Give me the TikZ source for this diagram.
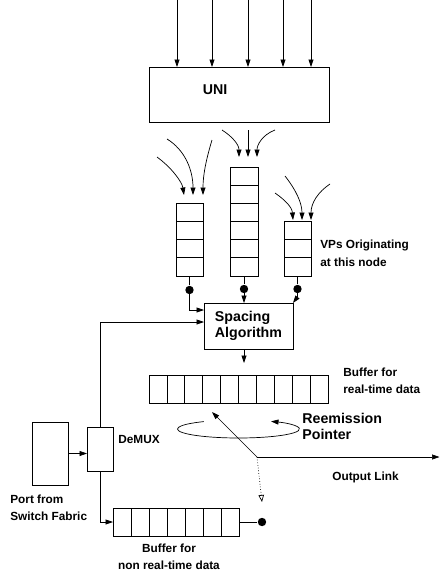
\documentclass[tikz,border=0pt]{standalone}
\usepackage{fontspec}
\setmainfont{Liberation Sans}
\usetikzlibrary{arrows.meta,calc}
\begin{document}
\begin{tikzpicture}[x=1pt,y=-1pt,
  line width=0.7pt,
  arr/.style={-{Triangle[length=7.5pt,width=5pt]}},
  plainbox/.style={draw, inner sep=0pt, outer sep=0pt},
  dot/.style={circle, fill, inner sep=0pt, minimum size=8.4pt},
  biglbl/.style={font=\bfseries\fontsize{14.2}{16.5}\selectfont, inner sep=0pt, align=left},
  smalllbl/.style={font=\bfseries\fontsize{11.8}{17.5}\selectfont, inner sep=0pt, align=left}
]
\useasboundingbox (0,0) rectangle (440,576);

% UNI
\node[plainbox, minimum width=180pt, minimum height=55pt] (uni) at (239,94.5) {};
\node[biglbl] (unilbl) at (215,90) {UNI};
\foreach \x [count=\k] in {177,212,248,283,311} {
  \coordinate (t\k) at (\x,0);
  \draw[arr] (t\k) -- (t\k |- uni.north);
}

% queues
\node[plainbox, minimum width=27pt, minimum height=73pt] (q1) at (189.5,239.5) {};
\node[plainbox, minimum width=28pt, minimum height=109pt] (q2) at (244,221.5) {};
\node[plainbox, minimum width=27pt, minimum height=55pt] (q3) at (297.5,248.5) {};
\foreach \i in {1,2,3}
  \draw ($(q1.north west)!\i/4!(q1.south west)$) -- ($(q1.north east)!\i/4!(q1.south east)$);
\foreach \i in {1,...,5}
  \draw ($(q2.north west)!\i/6!(q2.south west)$) -- ($(q2.north east)!\i/6!(q2.south east)$);
\foreach \i in {1,2}
  \draw ($(q3.north west)!\i/3!(q3.south west)$) -- ($(q3.north east)!\i/3!(q3.south east)$);

% incoming curved arrows
\coordinate (a1) at (157,157);
\coordinate (a2) at (167,139);
\coordinate (a3) at (212,140);
\draw[arr] (a1) .. controls (172,168) and (182,182) .. ($(q1.north)+(-5.5,-8)$);
\draw[arr] (a2) .. controls (185,150) and (193,170) .. ($(q1.north)+(3.5,-8)$);
\draw[arr] (a3) .. controls (206,160) and (203,175) .. ($(q1.north)+(13.5,-8)$);
\coordinate (b1) at (222,130);
\coordinate (b2) at (248,130);
\coordinate (b3) at (275,130);
\draw[arr] (b1) .. controls (233,137) and (239,145) .. ($(q2.north)+(-5,-10)$);
\draw[arr] (b2) -- ($(q2.north)+(4,-10)$);
\draw[arr] (b3) .. controls (262,135) and (257,145) .. ($(q2.north)+(13,-10)$);
\coordinate (c1) at (275,193);
\coordinate (c2) at (285,176);
\coordinate (c3) at (330,184);
\draw[arr] (c1) .. controls (285,200) and (292,207) .. ($(q3.north)+(-4.5,-1)$);
\draw[arr] (c2) .. controls (296,190) and (302,203) .. ($(q3.north)+(4.5,-1)$);
\draw[arr] (c3) .. controls (318,192) and (311,203) .. ($(q3.north)+(13.5,-1)$);

\node[smalllbl, anchor=west] (vplbl) at (320,253.5) {VPs Originating\\at this node};

% dots
\node[dot] (d1) at (189.5,290) {};
\node[dot] (d2) at (244,289) {};
\node[dot] (d3) at (297.5,289) {};
\draw (q1.south) -- (d1);
\draw (q2.south) -- (d2);
\draw (q3.south) -- (d3);

% spacing algorithm
\node[plainbox, minimum width=89pt, minimum height=46pt, biglbl, draw] (sa) at (248.5,326) {Spacing\\Algorithm};
\draw[arr] (d1.center) |- ([yshift=16pt]sa.west);
\draw[arr] (d2.center) -- (d2 |- sa.north);
\draw[arr] (d3.center) -- ++(0,8) -- (sa.north east);
\coordinate (saout) at (244,363);
\draw[arr] (sa.south -| saout) -- (saout);

% real-time buffer
\node[plainbox, minimum width=179pt, minimum height=28pt] (rtb) at (238.5,389) {};
\foreach \i in {1,...,9}
  \draw ($(rtb.north west)!\i/10!(rtb.north east)$) -- ($(rtb.south west)!\i/10!(rtb.south east)$);
\node[smalllbl, anchor=west] (rtlbl) at (343,381) {Buffer for\\real-time data};

% reemission pointer
\draw[arr] (238.5,429) ++(-124.5:61 and 9) arc[start angle=-124.5, end angle=-417.8, x radius=61, y radius=9];
\node[biglbl, anchor=west] (rplbl) at (302,426.5) {Reemission\\Pointer};
\coordinate (piv) at (257,457);
\coordinate (ptip) at (212,412);
\coordinate (outend) at (439.5,457);
\coordinate (dotend) at (262,502);
\draw[arr] (piv) -- (ptip);
\draw[arr] (piv) -- (outend);
\draw[dotted, -{Triangle[open,length=7pt,width=5.5pt]}] (piv) -- (dotend);
\node[smalllbl] (ollbl) at (365.5,477) {Output Link};

% port and demux
\node[plainbox, minimum width=36pt, minimum height=63pt] (port) at (50,453.5) {};
\node[plainbox, minimum width=26pt, minimum height=44pt] (demux) at (100,449) {};
\draw[arr] (port.east) -- (port.east -| demux.west);
\node[smalllbl, anchor=west] (dmlbl) at (118,439) {DeMUX};
\node[smalllbl, anchor=west] (portlbl) at (10,508) {Port from\\Switch Fabric};
\draw[arr] (demux.north) |- ([yshift=4pt]sa.west);

% non real-time buffer
\node[plainbox, minimum width=126pt, minimum height=28pt] (nrt) at (176,522) {};
\foreach \i in {1,...,6}
  \draw ($(nrt.north west)!\i/7!(nrt.north east)$) -- ($(nrt.south west)!\i/7!(nrt.south east)$);
\draw[arr] (demux.south) |- (nrt.west);
\node[dot] (d4) at (262,522) {};
\draw (nrt.east) -- (d4);
\node[smalllbl, align=center] (nrtlbl) at (169,557) {Buffer for\\non real-time data};
\end{tikzpicture}
\end{document}
